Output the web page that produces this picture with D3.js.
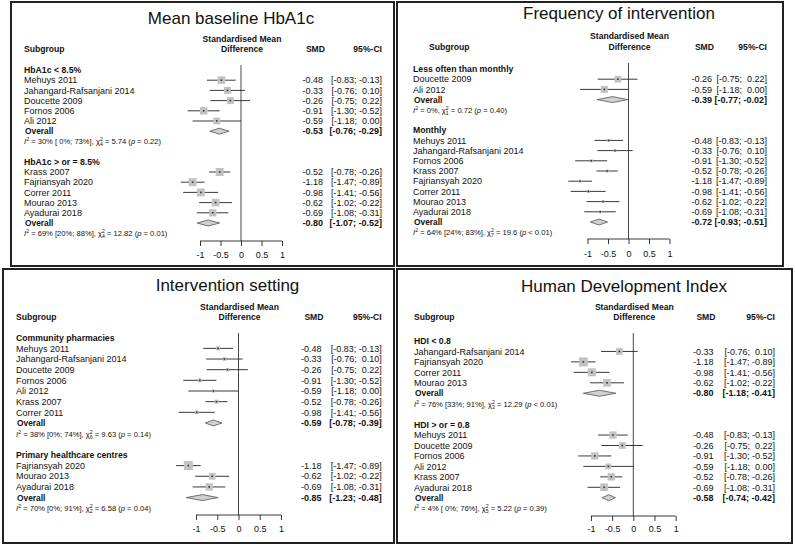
<!DOCTYPE html>
<html><head><meta charset="utf-8">
<script src="https://cdn.jsdelivr.net/npm/d3@7"></script>
<style>
body{margin:0;background:#fff}
text{font-family:"Liberation Sans",Arial,sans-serif;white-space:pre;fill:#111}
</style>
</head><body><svg id="c" width="795" height="545"></svg>
<script>
// ---------- data ----------
const studies = ["Mehuys 2011","Jahangard-Rafsanjani 2014","Doucette 2009","Fornos 2006","Ali 2012","Krass 2007","Fajriansyah 2020","Correr 2011","Mourao 2013","Ayadurai 2018"];
const smd   = [-0.48,-0.33,-0.26,-0.91,-0.59,-0.52,-1.18,-0.98,-0.62,-0.69];
const lower = [-0.83,-0.76,-0.75,-1.30,-1.18,-0.78,-1.47,-1.41,-1.02,-1.08];
const upper = [-0.13, 0.10, 0.22,-0.52, 0.00,-0.26,-0.89,-0.56,-0.22,-0.31];
const tickValues = [-1,-0.5,0,0.5,1];
const tickLabels = ["-1","-0.5","0","0.5","1"];

const panelTitles = ["Mean baseline HbA1c","Frequency of intervention","Intervention setting","Human Development Index"];
const groupLabels = [
  ["HbA1c < 8.5%","HbA1c > or = 8.5%"],
  ["Less often than monthly","Monthly"],
  ["Community pharmacies","Primary healthcare centres"],
  ["HDI < 0.8","HDI > or = 0.8"]];
const groupStudies = [
  [["Mehuys 2011","Jahangard-Rafsanjani 2014","Doucette 2009","Fornos 2006","Ali 2012"],
   ["Krass 2007","Fajriansyah 2020","Correr 2011","Mourao 2013","Ayadurai 2018"]],
  [["Doucette 2009","Ali 2012"],
   ["Mehuys 2011","Jahangard-Rafsanjani 2014","Fornos 2006","Krass 2007","Fajriansyah 2020","Correr 2011","Mourao 2013","Ayadurai 2018"]],
  [["Mehuys 2011","Jahangard-Rafsanjani 2014","Doucette 2009","Fornos 2006","Ali 2012","Krass 2007","Correr 2011"],
   ["Fajriansyah 2020","Mourao 2013","Ayadurai 2018"]],
  [["Jahangard-Rafsanjani 2014","Fajriansyah 2020","Correr 2011","Mourao 2013"],
   ["Mehuys 2011","Doucette 2009","Fornos 2006","Ali 2012","Krass 2007","Ayadurai 2018"]]];
// relative study weights (square areas)
const groupWeights = [
  [[59,49,49,56,45],[64,64,62,59,53]],
  [[45,49],[9,9,9,9,9,9,9,9]],
  [[16,14,12,16,10,16,14],[81,45,53]],
  [[45,81,64,59],[53,45,53,32,53,59]]];
const overallSMD   = [[-0.53,-0.80],[-0.39,-0.72],[-0.59,-0.85],[-0.80,-0.58]];
const overallLower = [[-0.76,-1.07],[-0.77,-0.93],[-0.78,-1.23],[-1.18,-0.74]];
const overallUpper = [[-0.29,-0.52],[-0.02,-0.51],[-0.39,-0.48],[-0.41,-0.42]];
const hetI2   = [["30%","69%"],["0%","64%"],["38%","70%"],["76%","4%"]];
const hetI2CI = [["[ 0%; 73%]","[20%; 88%]"],[null,"[24%; 83%]"],["[0%; 74%]","[0%; 91%]"],["[33%; 91%]","[ 0%; 76%]"]];
const hetDf   = [[4,4],[1,7],[6,2],[3,5]];
const hetChi  = [["5.74","12.82"],["0.72","19.6"],["9.63","6.58"],["12.29","5.22"]];
const hetP    = [["= 0.22","= 0.01"],["= 0.40","< 0.01"],["= 0.14","= 0.04"],["< 0.01","= 0.39"]];

// ---------- layout ----------
const layouts = [
  {box:[11,2,394,266], titleX:231, titleY:24, zero:241, unit:41, row0:70, ru:10.2, nameX:24, subX:24, smdX:323, ciX:382, h1:42, h2:52, zTop:65, axisY:241, tickY:258},
  {box:[397,2,783,266], titleX:619, titleY:19, zero:628.5, unit:41, row0:69, ru:10.2, nameX:413, subX:429, smdX:712, ciX:767, h1:39, h2:50, zTop:63, axisY:239, tickY:256.5},
  {box:[3,269,394,543], titleX:227.5, titleY:291, zero:238.5, unit:42.5, row0:337.7, ru:10.66, nameX:16, subX:16, smdX:321.5, ciX:381.7, h1:310, h2:320, zTop:333, axisY:515, tickY:531.5},
  {box:[397,269,792,543], titleX:624, titleY:291.5, zero:633.3, unit:42.35, row0:341, ru:10.45, nameX:414, subX:414, smdX:713.5, ciX:775, h1:310, h2:320, zTop:333, axisY:516, tickY:531.5}
];

const svg = d3.select("#c");
const f2 = v => (v < 0 ? "-" : " ") + Math.abs(v).toFixed(2);
const fmtCI = (lo, hi) => "[" + f2(lo) + "; " + f2(hi) + "]";
const size = d3.scaleSqrt().domain([0,100]).range([0,10]);

layouts.forEach((L, p) => {
  const g = svg.append("g");
  const [x0,y0,x1,y1] = L.box;
  g.append("rect").attr("x",x0).attr("y",y0).attr("width",x1-x0).attr("height",y1-y0)
    .attr("fill","none").attr("stroke","#222").attr("stroke-width",2);
  g.append("text").attr("x",L.titleX).attr("y",L.titleY).attr("text-anchor","middle")
    .attr("font-size",17).text(panelTitles[p]);

  const x = d3.scaleLinear().domain([0,1]).range([L.zero, L.zero + L.unit]);
  const rowY = r => L.row0 + r * L.ru;

  const hdr = (tx, xx, yy, anchor) => g.append("text").attr("x",xx).attr("y",yy)
    .attr("text-anchor",anchor).attr("font-size",8.6).attr("font-weight","bold").text(tx);
  hdr("Standardised Mean", x(0)+1, L.h1, "middle");
  hdr("Difference", x(0)+1, L.h2, "middle");
  hdr("Subgroup", L.subX, L.h2, "start");
  hdr("SMD", L.smdX+2, L.h2, "end");
  hdr("95%-CI", L.ciX, L.h2, "end");

  g.append("line").attr("x1",x(0)).attr("x2",x(0)).attr("y1",L.zTop).attr("y2",L.axisY)
    .attr("stroke","#333").attr("stroke-width",0.9);

  let r = 0;
  [0,1].forEach(k => {
    g.append("text").attr("x",L.nameX).attr("y",rowY(r)+3.2).attr("font-size",8.7)
      .attr("font-weight","bold").text(groupLabels[p][k]);
    r++;
    groupStudies[p][k].forEach((name, j) => {
      const i = studies.indexOf(name);
      const yy = rowY(r);
      g.append("text").attr("x",L.nameX).attr("y",yy+3.2).attr("font-size",9).text(name);
      g.append("line").attr("x1",x(lower[i])).attr("x2",x(upper[i])).attr("y1",yy).attr("y2",yy)
        .attr("stroke","#222").attr("stroke-width",0.9);
      const s = size(groupWeights[p][k][j]);
      g.append("rect").attr("x",x(smd[i])-s/2).attr("y",yy-s/2).attr("width",s).attr("height",s)
        .attr("fill","#c2c2c2");
      g.append("rect").attr("x",x(smd[i])-0.8).attr("y",yy-0.8).attr("width",1.6).attr("height",1.6)
        .attr("fill","#333");
      g.append("text").attr("x",L.smdX).attr("y",yy+3.2).attr("font-size",9).attr("text-anchor","end")
        .text(smd[i].toFixed(2));
      g.append("text").attr("x",L.ciX).attr("y",yy+3.2).attr("font-size",9).attr("text-anchor","end")
        .text(fmtCI(lower[i], upper[i]));
      r++;
    });
    const yy = rowY(r);
    g.append("text").attr("x",L.nameX+1).attr("y",yy+3).attr("font-size",8.4).attr("font-weight","bold").text("Overall");
    const lo = overallLower[p][k], hi = overallUpper[p][k], est = overallSMD[p][k];
    g.append("path").attr("d", `M${x(lo)},${yy}L${x(est)},${yy-3}L${x(hi)},${yy}L${x(est)},${yy+3}Z`)
      .attr("fill","#d0d0d0").attr("stroke","#555").attr("stroke-width",0.8);
    g.append("text").attr("x",L.smdX).attr("y",yy+3.2).attr("font-size",9).attr("font-weight","bold")
      .attr("text-anchor","end").text(est.toFixed(2));
    g.append("text").attr("x",L.ciX).attr("y",yy+3.2).attr("font-size",9).attr("font-weight","bold")
      .attr("text-anchor","end").text(fmtCI(lo, hi));
    r++;
    const t = g.append("text").attr("x",L.nameX).attr("y",rowY(r)+3).attr("font-size",7.6);
    t.append("tspan").attr("font-style","italic").text("I");
    t.append("tspan").attr("font-size",5.2).attr("dy",-3).text("2");
    t.append("tspan").attr("dy",3).text(" = " + hetI2[p][k] + (hetI2CI[p][k] ? " " + hetI2CI[p][k] : "") + ", χ");
    t.append("tspan").attr("font-size",5.2).attr("dy",-3).text("2");
    t.append("tspan").attr("font-size",5.2).attr("dx",-2.9).attr("dy",5).text(String(hetDf[p][k]));
    t.append("tspan").attr("dy",-2).text(" = " + hetChi[p][k] + " (");
    t.append("tspan").attr("font-style","italic").text("p");
    t.append("tspan").text(" " + hetP[p][k] + ")");
    r += 2;
  });

  const ax = g.append("g").attr("transform",`translate(0,${L.axisY})`)
    .call(d3.axisBottom(x).tickValues(tickValues).tickFormat((d,i) => tickLabels[i]).tickSizeOuter(0).tickSize(5).tickPadding(8));
  ax.select(".domain").attr("stroke","#222").attr("stroke-width",0.9).attr("d",`M${x(-1)},0H${x(1)}`);
  ax.selectAll(".tick line").attr("stroke","#222").attr("stroke-width",0.9);
  ax.selectAll(".tick text").attr("font-size",9).attr("fill","#111")
    .attr("font-family",'"Liberation Sans",Arial,sans-serif').attr("y", L.tickY - L.axisY).attr("dy",0);
});
</script>
</body></html>
